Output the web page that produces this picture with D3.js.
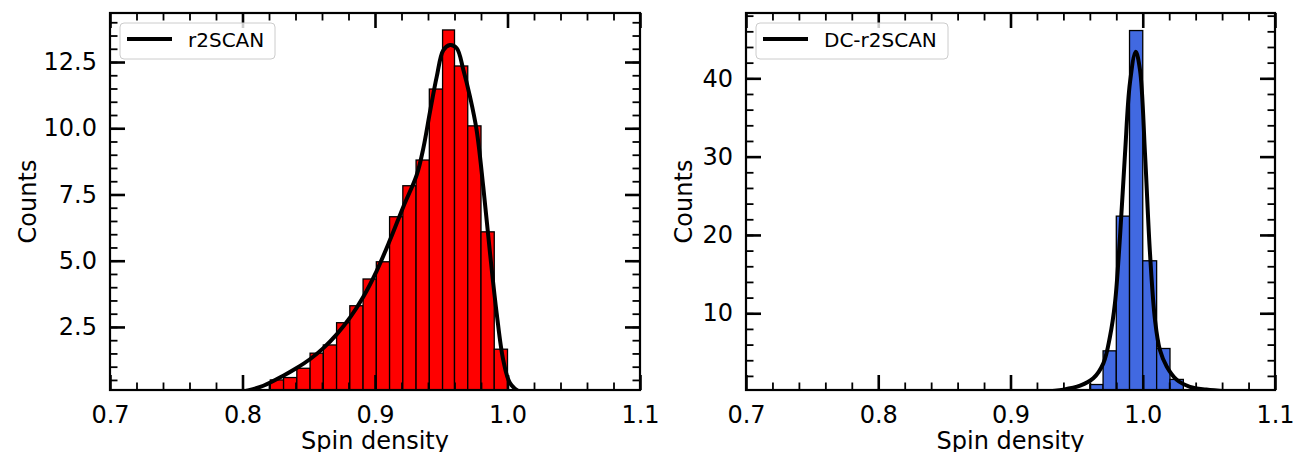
<!DOCTYPE html>
<html>
<head>
<meta charset="utf-8">
<script src="https://cdn.jsdelivr.net/npm/d3@7"></script>
<style>
  html, body { margin: 0; padding: 0; background: #ffffff; }
  svg { display: block; }
  text { font-family: "DejaVu Sans", sans-serif; fill: #000; }
</style>
</head>
<body>
<svg id="chart" width="1293" height="452"></svg>
<script>
// ---------- data ----------
const leftLabel = "r2SCAN";
const rightLabel = "DC-r2SCAN";
const xTicks = [0.7, 0.8, 0.9, 1.0, 1.1];
const leftYTicks = [2.5, 5.0, 7.5, 10.0, 12.5];
const rightYTicks = [10, 20, 30, 40];

const leftBinEdges = [0.821, 0.831, 0.841, 0.851, 0.861, 0.871, 0.881, 0.891, 0.901, 0.911,
                      0.921, 0.931, 0.941, 0.951, 0.960, 0.970, 0.980, 0.990, 1.000];
const leftCounts = [0.50, 0.59, 0.94, 1.51, 1.82, 2.66, 3.30, 4.31, 4.96, 6.66,
                    7.83, 8.80, 11.48, 13.71, 12.35, 10.09, 6.09, 1.66];

const rightBinEdges = [0.960, 0.970, 0.980, 0.990, 1.000, 1.0105, 1.0206, 1.0307];
const rightCounts = [0.9, 5.2, 22.4, 46.1, 16.7, 5.5, 1.55];

const leftKdeX = [0.795, 0.8040, 0.8157, 0.8308, 0.8409, 0.8509, 0.8610, 0.8711, 0.8811, 0.8912,
                  0.9013, 0.9113, 0.9214, 0.9315, 0.9365, 0.9415, 0.9466, 0.9516, 0.9566, 0.9617,
                  0.9667, 0.9717, 0.9767, 0.9817, 0.9868, 0.9918, 0.9968, 1.0019, 1.0094, 1.016];
const leftKdeY = [0.0, 0.10, 0.28, 0.66, 0.95, 1.28, 1.70, 2.22, 2.85, 3.64,
                  4.62, 5.78, 7.04, 8.24, 9.25, 10.62, 11.95, 12.95, 13.14, 13.02,
                  12.2, 11.19, 9.93, 7.79, 5.29, 3.03, 1.25, 0.38, 0.05, 0.0];

const rightKdeX = [0.925, 0.9399, 0.9526, 0.9626, 0.9702, 0.9752, 0.9790, 0.9828, 0.9866,
                   0.9903, 0.9947, 0.9979, 1.0017, 1.0055, 1.0093, 1.0130, 1.0181, 1.0257, 1.0357,
                   1.0480, 1.0620, 1.070];
const rightKdeY = [0.0, 0.25, 0.75, 1.69, 3.6, 7.0, 11.3, 19.8, 30.4,
                   39.4, 43.4, 41.1, 30.4, 17.6, 9.1, 5.3, 3.2, 1.5, 0.6,
                   0.25, 0.05, 0.0];

// ---------- drawing ----------
const svg = d3.select("#chart");

function panel(cfg) {
  const x = d3.scaleLinear().domain([0.7, 1.1]).range([cfg.x0, cfg.x1]);
  const y = d3.scaleLinear().domain(cfg.yDomain).range([cfg.y1, cfg.y0]);
  const g = svg.append("g");
  const clipId = "clip-" + cfg.id;
  g.append("clipPath").attr("id", clipId)
    .append("rect").attr("x", cfg.x0).attr("y", cfg.y0)
    .attr("width", cfg.x1 - cfg.x0).attr("height", cfg.y1 - cfg.y0);

  const plot = g.append("g").attr("clip-path", `url(#${clipId})`);
  const bins = cfg.counts.map((c, i) => ({ a: cfg.edges[i], b: cfg.edges[i + 1], c }));
  plot.selectAll("rect.bar").data(bins).enter().append("rect")
    .attr("class", "bar")
    .attr("x", d => x(d.a))
    .attr("width", d => x(d.b) - x(d.a))
    .attr("y", d => y(d.c))
    .attr("height", d => y(cfg.yDomain[0]) - y(d.c) + 2)
    .attr("fill", cfg.color)
    .attr("stroke", "#000")
    .attr("stroke-width", 1.3);

  const kde = cfg.kdeX.map((v, i) => [v, cfg.kdeY[i]]);
  plot.append("path")
    .attr("d", d3.line().x(d => x(d[0])).y(d => y(d[1])).curve(d3.curveCatmullRom.alpha(0.5))(kde))
    .attr("fill", "none").attr("stroke", "#000").attr("stroke-width", 4)
    .attr("stroke-linejoin", "round");

  // minor ticks
  const xMinor = d3.range(0.72, 1.1, 0.02).filter(v => Math.abs(v * 10 - Math.round(v * 10)) > 1e-6);
  const yMinor = d3.range(cfg.minorStep, cfg.yDomain[1], cfg.minorStep)
    .filter(v => v > cfg.yDomain[0]);
  const MAJ = 15, MIN = 7.5;

  function styleAxis(sel, w) {
    sel.select(".domain").remove();
    sel.selectAll(".tick line").attr("stroke", "#000").attr("stroke-width", w);
    sel.selectAll("text").style("font-size", "24px").style("font-family", "DejaVu Sans");
  }

  // bottom
  g.append("g").attr("transform", `translate(0,${cfg.y1})`)
    .call(d3.axisBottom(x).tickValues(xMinor).tickSize(-MIN).tickFormat(""))
    .call(s => styleAxis(s, 1.8));
  g.append("g").attr("transform", `translate(0,${cfg.y1})`)
    .call(d3.axisBottom(x).tickValues(xTicks).tickSize(-MAJ).tickPadding(16).tickFormat(d3.format(".1f")))
    .call(s => styleAxis(s, 2.6));
  // top
  g.append("g").attr("transform", `translate(0,${cfg.y0})`)
    .call(d3.axisTop(x).tickValues(xMinor).tickSize(-MIN).tickFormat(""))
    .call(s => styleAxis(s, 1.8));
  g.append("g").attr("transform", `translate(0,${cfg.y0})`)
    .call(d3.axisTop(x).tickValues(xTicks).tickSize(-MAJ).tickFormat(""))
    .call(s => styleAxis(s, 2.6));
  // left
  g.append("g").attr("transform", `translate(${cfg.x0},0)`)
    .call(d3.axisLeft(y).tickValues(yMinor).tickSize(-MIN).tickFormat(""))
    .call(s => styleAxis(s, 1.8));
  g.append("g").attr("transform", `translate(${cfg.x0},0)`)
    .call(d3.axisLeft(y).tickValues(cfg.yTicks).tickSize(-MAJ).tickPadding(13).tickFormat(d3.format(cfg.yFmt)))
    .call(s => styleAxis(s, 2.6));
  // right
  g.append("g").attr("transform", `translate(${cfg.x1},0)`)
    .call(d3.axisRight(y).tickValues(yMinor).tickSize(-MIN).tickFormat(""))
    .call(s => styleAxis(s, 1.8));
  g.append("g").attr("transform", `translate(${cfg.x1},0)`)
    .call(d3.axisRight(y).tickValues(cfg.yTicks).tickSize(-MAJ).tickFormat(""))
    .call(s => styleAxis(s, 2.6));

  // spines
  g.append("rect")
    .attr("x", cfg.x0).attr("y", cfg.y0)
    .attr("width", cfg.x1 - cfg.x0).attr("height", cfg.y1 - cfg.y0)
    .attr("fill", "none").attr("stroke", "#000").attr("stroke-width", 2.2);

  // axis labels
  g.append("text")
    .attr("x", (cfg.x0 + cfg.x1) / 2).attr("y", 449)
    .attr("text-anchor", "middle").style("font-size", "24px")
    .text("Spin density");
  g.append("text")
    .attr("transform", `translate(${cfg.ylabX},${(cfg.y0 + cfg.y1) / 2}) rotate(-90)`)
    .attr("text-anchor", "middle").style("font-size", "24px")
    .text("Counts");

  // legend
  const lg = g.append("g");
  lg.append("rect")
    .attr("x", cfg.x0 + 10).attr("y", 23)
    .attr("width", cfg.legW).attr("height", 36)
    .attr("rx", 4).attr("ry", 4)
    .attr("fill", "#fff").attr("fill-opacity", 0.8)
    .attr("stroke", "#cccccc").attr("stroke-width", 1);
  lg.append("line")
    .attr("x1", cfg.x0 + 17).attr("x2", cfg.x0 + 62)
    .attr("y1", 39).attr("y2", 39)
    .attr("stroke", "#000").attr("stroke-width", 4);
  lg.append("text")
    .attr("x", cfg.x0 + 78).attr("y", 47)
    .style("font-size", "20px")
    .text(cfg.label);
}

panel({
  id: "left", x0: 110, x1: 640, y0: 13, y1: 390,
  yDomain: [0.12, 14.35], yTicks: leftYTicks, yFmt: ".1f", minorStep: 0.5,
  edges: leftBinEdges, counts: leftCounts, color: "#ff0000",
  kdeX: leftKdeX, kdeY: leftKdeY, label: leftLabel, legW: 155, ylabX: 36
});
panel({
  id: "right", x0: 746, x1: 1275, y0: 13, y1: 390,
  yDomain: [0.2, 48.34], yTicks: rightYTicks, yFmt: "d", minorStep: 2,
  edges: rightBinEdges, counts: rightCounts, color: "#4169e1",
  kdeX: rightKdeX, kdeY: rightKdeY, label: rightLabel, legW: 192, ylabX: 692
});
</script>
</body>
</html>
